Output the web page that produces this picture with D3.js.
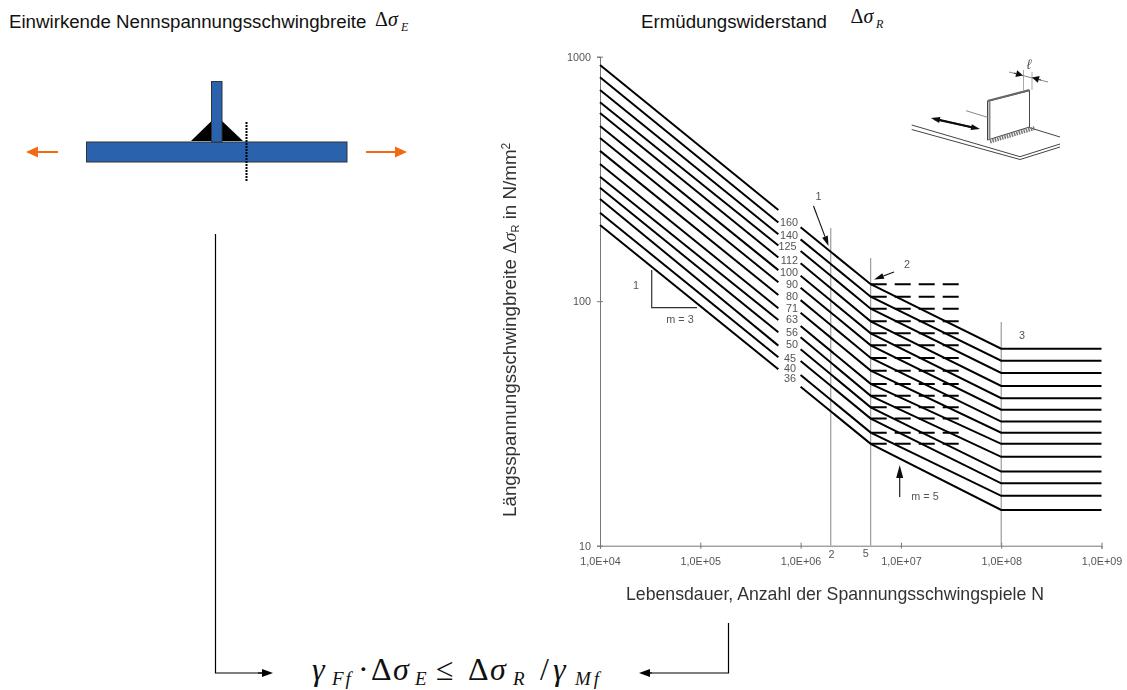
<!DOCTYPE html>
<html>
<head>
<meta charset="utf-8">
<script src="https://cdnjs.cloudflare.com/ajax/libs/d3/7.8.5/d3.min.js"></script>
<style>
    html, body { margin: 0; padding: 0; background: #fff; }
    text { font-family: "Liberation Sans", Arial, sans-serif; }
    .serif { font-family: "Liberation Serif", "Times New Roman", serif; }
    .scan text { fill: #555; font-size: 10.8px; }
    .axis path, .axis line { stroke: #777; }
    .axis text { font-family: "Liberation Sans", Arial, sans-serif; }
</style>
</head>
<body>
<svg id="chart" width="1127" height="690"></svg>
<script>
// fatigue classes, as printed next to the lines
const classes = [160, 140, 125, 112, 100, 90, 80, 71, 63, 56, 50, 45, 40, 36];

// stress range of each class at the given cycle counts
const stressAt1e4 = [925, 824, 731, 651, 588, 521, 465, 412, 364, 323, 291, 262, 230, 205];
const stressAtGap = [236, 210, 188, 169, 151, 134, 119.5, 106, 93.5, 83.8, 74.6, 65.8, 59, 52.7];
const stressAt1e6 = [200.5, 179, 160.5, 143, 127, 113.6, 101, 89.7, 79.2, 71.2, 63.6, 56.9, 49.9, 44.7];
const stressAtKnee = [117.3, 104.3, 93.2, 82.7, 73.9, 66, 58.6, 52, 45.9, 41, 36.8, 33.1, 29, 26.1];
const stressAtCutoff = [63.9, 57.1, 50.9, 45, 40.1, 36, 32.2, 29, 26.1, 23.1, 20.1, 18, 16, 14];

// cycle counts where the lines break
const gapStartN = 6e5;
const gapEndN = 1e6;
const kneeN = 5e6;
const cutoffN = 1e8;
const endN = 1e9;
const dashEndN = 3.8e7;

const xTicks = [1e4, 1e5, 1e6, 1e7, 1e8, 1e9];
const xTickLabels = ["1,0E+04", "1,0E+05", "1,0E+06", "1,0E+07", "1,0E+08", "1,0E+09"];
const yTicks = [10, 100, 1000];

const svg = d3.select("#chart");

const defs = svg.append("defs");
defs.append("filter").attr("id", "soft")
    .attr("x", "-5%").attr("y", "-5%").attr("width", "110%").attr("height", "110%")
    .append("feGaussianBlur").attr("stdDeviation", 0.5);

const x = d3.scaleLog().domain([1e4, 1e9]).range([600, 1101.5]);
const y = d3.scaleLog().domain([10, 1000]).range([545.7, 56.7]);

function arrow(g, x1, y1, x2, y2, color, w, headLen, headW) {
    const a = Math.atan2(y2 - y1, x2 - x1);
    const bx = x2 - headLen * Math.cos(a), by = y2 - headLen * Math.sin(a);
    const nx = -Math.sin(a) * headW / 2, ny = Math.cos(a) * headW / 2;
    g.append("line").attr("x1", x1).attr("y1", y1).attr("x2", bx).attr("y2", by)
        .attr("stroke", color).attr("stroke-width", w);
    g.append("polygon")
        .attr("points", [[x2, y2], [bx + nx, by + ny], [bx - nx, by - ny]].join(" "))
        .attr("fill", color);
}

// text with a serif formula part: [string, x, y, size, italic, letter spacing]
function formula(g, parts) {
    parts.forEach(function(p) {
        g.append("text").attr("class", "serif")
            .attr("x", p[1]).attr("y", p[2])
            .attr("font-size", p[3])
            .attr("font-style", p[4] ? "italic" : "normal")
            .attr("letter-spacing", p[5] || 0)
            .attr("fill", "#111")
            .text(p[0]);
    });
}

// ---- headings
svg.append("text").attr("x", 9).attr("y", 28).attr("font-size", 18.7).attr("fill", "#111")
    .text("Einwirkende Nennspannungsschwingbreite");
svg.append("text").attr("x", 641).attr("y", 28).attr("font-size", 18.7).attr("fill", "#111")
    .text("Ermüdungswiderstand");
formula(svg, [
    ["\u0394", 375, 26, 20, false], ["\u03C3", 388, 26, 20, true], ["E", 401, 31, 12, true],
    ["\u0394", 850.5, 23, 20, false], ["\u03C3", 863.5, 23, 20, true], ["R", 876, 28, 12, true]
]);

// ---- welded joint sketch
const joint = svg.append("g");
joint.append("polygon").attr("points", "191,141 211.5,121 211.5,141").attr("fill", "#000");
joint.append("polygon").attr("points", "222,121 243,141 222,141").attr("fill", "#000");
joint.selectAll("rect")
    .data([[86.5, 142, 260.5, 20], [211.5, 81.5, 10.5, 60.5]])
    .enter().append("rect")
    .attr("x", d => d[0]).attr("y", d => d[1])
    .attr("width", d => d[2]).attr("height", d => d[3])
    .attr("fill", "#2b62ae").attr("stroke", "#333").attr("stroke-width", 1);
joint.append("line").attr("x1", 246.5).attr("y1", 122).attr("x2", 246.5).attr("y2", 181)
    .attr("stroke", "#000").attr("stroke-width", 2).attr("stroke-dasharray", "2 1");
arrow(joint, 58, 152, 26, 152, "#f26a12", 2, 12, 11);
arrow(joint, 366, 152, 407, 152, "#f26a12", 2, 12, 11);

// ---- formula and its feeder arrows
const bottom = svg.append("g");
bottom.append("path").attr("d", "M215.5,234V673H262").attr("fill", "none")
    .attr("stroke", "#000").attr("stroke-width", 1.2);
bottom.append("path").attr("d", "M728.5,623V673H650").attr("fill", "none")
    .attr("stroke", "#000").attr("stroke-width", 1.2);
arrow(bottom, 258, 673, 273, 673, "#000", 1.2, 11, 8);
arrow(bottom, 652, 673, 639, 673, "#000", 1.2, 11, 8);
formula(bottom, [
    ["\u03B3", 312, 680, 32, true], ["Ff", 332, 685, 19, true, 2],
    ["\u00B7", 358, 680, 32, false],
    ["\u0394", 371, 680, 32, false], ["\u03C3", 393, 680, 32, true], ["E", 415, 685, 19, true],
    ["\u2264", 436, 680, 32, false],
    ["\u0394", 468, 680, 32, false], ["\u03C3", 490, 680, 32, true], ["R", 513, 685, 19, true],
    ["/", 540, 680, 32, false],
    ["\u03B3", 553, 680, 32, true], ["Mf", 575, 685, 19, true, 3]
]);

// ---- the scanned S-N diagram
const scan = svg.append("g").attr("class", "scan").attr("filter", "url(#soft)");

const yAxis = scan.append("g").attr("class", "axis")
    .attr("transform", "translate(" + x(1e4) + ",0)")
    .call(d3.axisLeft(y).tickValues(yTicks).tickFormat(d3.format("d")).tickSize(3).tickPadding(6));
yAxis.selectAll(".tick line").attr("x2", 3).attr("x1", -3);
const xAxis = scan.append("g").attr("class", "axis")
    .attr("transform", "translate(0," + y(10) + ")")
    .call(d3.axisBottom(x).tickValues(xTicks).tickFormat((d, i) => xTickLabels[i]).tickSize(3).tickPadding(9));
xAxis.selectAll(".tick line").attr("y1", -3).attr("y2", 3);
scan.selectAll(".axis text").attr("font-size", 10.8).attr("fill", "#555");
scan.selectAll(".axis .domain").attr("stroke", "#777");

// guide lines at 2E6, 5E6 and the cutoff
scan.selectAll(".guide")
    .data([[2e6, 228], [kneeN, 258], [cutoffN, 322]])
    .enter().append("line").attr("class", "guide")
    .attr("x1", d => x(d[0])).attr("x2", d => x(d[0]))
    .attr("y1", d => d[1]).attr("y2", y(10))
    .attr("stroke", "#888").attr("stroke-width", 1);

const leftLine = d3.line().x(d => x(d[0])).y(d => y(d[1]));

// left part, m = 3 up to the label gap
scan.selectAll(".left")
    .data(classes)
    .enter().append("path").attr("class", "left")
    .attr("d", (c, i) => leftLine([[1e4, stressAt1e4[i]], [gapStartN, stressAtGap[i]]]))
    .attr("fill", "none").attr("stroke", "#000").attr("stroke-width", 2);

// right part, knee, m = 5 slope and flat tail
scan.selectAll(".right")
    .data(classes)
    .enter().append("path").attr("class", "right")
    .attr("d", (c, i) => leftLine([
        [gapEndN, stressAt1e6[i]], [kneeN, stressAtKnee[i]],
        [cutoffN, stressAtCutoff[i]], [endN, stressAtCutoff[i]]
    ]))
    .attr("fill", "none").attr("stroke", "#000").attr("stroke-width", 2);

// dashed continuation at knee level
scan.selectAll(".dash")
    .data(classes)
    .enter().append("line").attr("class", "dash")
    .attr("x1", x(kneeN)).attr("x2", x(dashEndN))
    .attr("y1", (c, i) => y(stressAtKnee[i])).attr("y2", (c, i) => y(stressAtKnee[i]))
    .attr("stroke", "#000").attr("stroke-width", 2).attr("stroke-dasharray", "16 8");

// class labels sit a little above the start of the right part
const labelNudge = [-5.6, -4, -4.3, -2.6, -3.7, -3.4, -4, -5, -7, -5, -5, -3, -7, -8];
const labelRight = [798, 798, 796.5, 798, 798, 798, 798, 798, 798, 798, 798, 796, 796, 796];
scan.selectAll(".classLabel")
    .data(classes)
    .enter().append("text").attr("class", "classLabel")
    .attr("x", (c, i) => labelRight[i])
    .attr("y", (c, i) => y(stressAt1e6[i]) + labelNudge[i])
    .attr("dy", "0.35em")
    .attr("text-anchor", "end")
    .text(c => c);

// slope triangle
scan.append("path").attr("d", "M651.7,270V307.7H697").attr("fill", "none")
    .attr("stroke", "#333").attr("stroke-width", 1.2);

const notes = [
    ["1", 636, 285], ["m = 3", 680, 319], ["1", 818.5, 196], ["2", 907, 264],
    ["3", 1022, 335], ["m = 5", 925, 496.5], ["2", 831.5, 554], ["5", 865.7, 553]
];
scan.selectAll(".note")
    .data(notes)
    .enter().append("text").attr("class", "note")
    .attr("x", d => d[1]).attr("y", d => d[2])
    .attr("dy", "0.35em").attr("text-anchor", "middle")
    .text(d => d[0]);

arrow(scan, 813.5, 206, 828.5, 246, "#111", 1.1, 10, 6);
arrow(scan, 894, 272, 874, 279.5, "#111", 1.1, 10, 6);
arrow(scan, 899.7, 497, 899.7, 465, "#111", 1.1, 13, 7);

// small perspective sketch of the attachment
const inset = scan.append("g").attr("fill", "none").attr("stroke", "#444").attr("stroke-width", 1);
[
    "M911.7,125L1020,156.7L1060,144", "M911.7,129.5L1020,159.5L1060,147",
    "M1029,127.5L1060,137"
].forEach(d => inset.append("path").attr("d", d));
inset.append("path").attr("d", "M987.5,101.3L1029.5,90.7V127L987.5,140Z")
    .attr("fill", "#fff").attr("stroke-width", 1);
inset.append("path").attr("d", "M987.5,101L1029.5,90").attr("stroke-width", 2).attr("stroke", "#666");
inset.append("path").attr("d", "M989.5,101.3V140").attr("stroke-width", 2).attr("stroke", "#888");
inset.append("path").attr("d", "M966,110.7L987.5,117.3").attr("stroke", "#888");
inset.append("path").attr("d", "M990,141.5L1035,128").attr("stroke-width", 4)
    .attr("stroke", "#777").attr("stroke-dasharray", "1.5 1");
inset.append("path").attr("d", "M1023.5,70V90M1032,72V90").attr("stroke", "#aaa");
inset.append("path").attr("d", "M1009,72L1048,82").attr("stroke", "#888");
arrow(scan, 934, 119, 980, 129, "#111", 1.8, 9, 6);
arrow(scan, 975, 128, 931, 118, "#111", 1.8, 9, 6);
arrow(scan, 1014, 73, 1023, 75.5, "#111", 0.8, 7, 7);
arrow(scan, 1041, 80, 1032, 77.5, "#111", 0.8, 7, 7);
scan.append("text").attr("x", 1029).attr("y", 69).attr("text-anchor", "middle")
    .attr("font-family", "DejaVu Serif").style("font-size", "14px").style("font-style", "italic").text("\u2113");

// ---- axis titles
scan.append("text").attr("x", 626).attr("y", 600)
    .style("font-size", "17.7px").style("fill", "#333")
    .text("Lebensdauer, Anzahl der Spannungsschwingspiele N");

const yTitle = scan.append("text")
    .attr("transform", "translate(516,517) rotate(-90)")
    .style("font-size", "18.8px").style("fill", "#333");
yTitle.append("tspan").text("Längsspannungsschwingbreite ");
yTitle.append("tspan").attr("font-family", "Liberation Serif").text("\u0394");
yTitle.append("tspan").attr("font-family", "Liberation Serif").attr("font-style", "italic").text("\u03C3");
yTitle.append("tspan").attr("dy", 3).style("font-size", "11px").text("R");
yTitle.append("tspan").attr("dy", -3).text(" in N/mm");
yTitle.append("tspan").attr("dy", -6).style("font-size", "12px").text("2");
</script>
</body>
</html>
